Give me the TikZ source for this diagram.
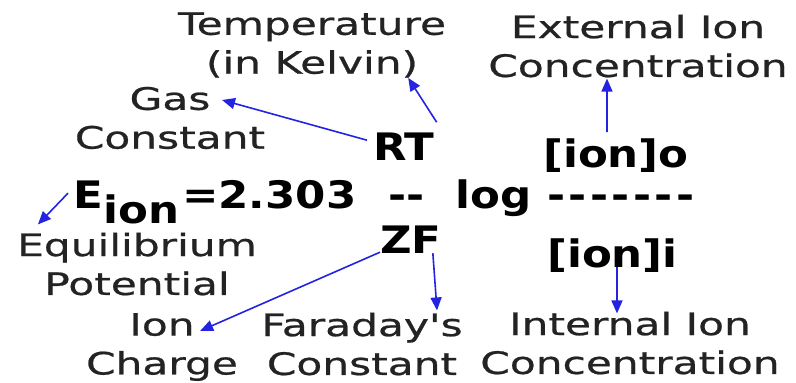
\documentclass[tikz,border=0pt]{standalone}
\usepackage{fontspec}
\usepackage{xcolor}
\usepackage{tikz}
\usetikzlibrary{positioning, arrows.meta, calc}
\newfontfamily\lblfont[FakeStretch=1.37, FakeBold=0.7]{DejaVu Sans}
\newfontfamily\eqfont[FakeStretch=1.15]{DejaVu Sans}
\definecolor{ptrblue}{RGB}{35,35,225}
\definecolor{inkgray}{RGB}{35,35,35}

\begin{document}
\begin{tikzpicture}[x=1bp, y=-1bp,
  lbl/.style={inner sep=0pt, align=center, text=inkgray, font=\lblfont\fontsize{31}{39}\selectfont},
  eqn/.style={inner sep=0pt, anchor=base west, text=black, font=\eqfont\bfseries\fontsize{38}{38}\selectfont},
  ptr/.style={draw=ptrblue, line width=1.6bp, -{Triangle[length=13bp,width=11bp]}}]
  \useasboundingbox (0,0) rectangle (796,382);
  % Equation
  \node[eqn] (E) at (73,208) {E};
  \node[eqn] (sub) at (103,223) {ion};
  \node[eqn] (eq) at (182,208) {=2.303};
  \node[eqn] (dd) at (388,208) {--};
  \node[eqn] (log) at (455,208) {log};
  \node[eqn] (bar) at (547,208) {\addfontfeature{LetterSpace=9}-------};
  \node[eqn] (RT) at (373,160) {RT};
  \node[eqn] (ZF) at (380,253) {ZF};
  \node[eqn] (iono) at (543,167) {[ion]o};
  \node[eqn] (ioni) at (547,267) {[ion]i};
  % Labels
  \node[lbl] (temp) at (312,45) {Temperature\\(in Kelvin)};
  \node[lbl] (gas) at (170,118) {Gas\\Constant};
  \node[lbl] (ext) at (638,46) {External Ion\\Concentration};
  \node[lbl] (equil) at (137,264) {Equilibrium\\Potential};
  \node[lbl] (charge) at (162,347) {Ion\\Charge};
  \node[lbl] (faraday) at (362,344) {Faraday's\\Constant};
  \node[lbl] (intern) at (630,343) {Internal Ion\\Concentration};
  % Pointers
  \draw[ptr] ($(RT.west)+(-6,-6)$) -- ($(gas.center)+(52,-18)$);
  \draw[ptr] ($(RT.north east)+(2,-10)$) -- ($(temp.south east)+(-38,0)$);
  \draw[ptr] ($(iono.north)+(-9,-6)$) -- ($(ext.south)+(-31,1)$);
  \draw[ptr] ($(E.west)+(-5,-1)$) -- ($(equil.north west)+(21,-8)$);
  \draw[ptr] ($(ZF.south west)+(0,-1)$) -- ($(charge.north east)+(-38,18)$);
  \draw[ptr] ($(ZF.south)+(22,0)$) -- ($(faraday.north)+(75,-2)$);
  \draw[ptr] ($(ioni.south)+(4.5,-5)$) -- ($(intern.north)+(-13,2)$);
\end{tikzpicture}
\end{document}
